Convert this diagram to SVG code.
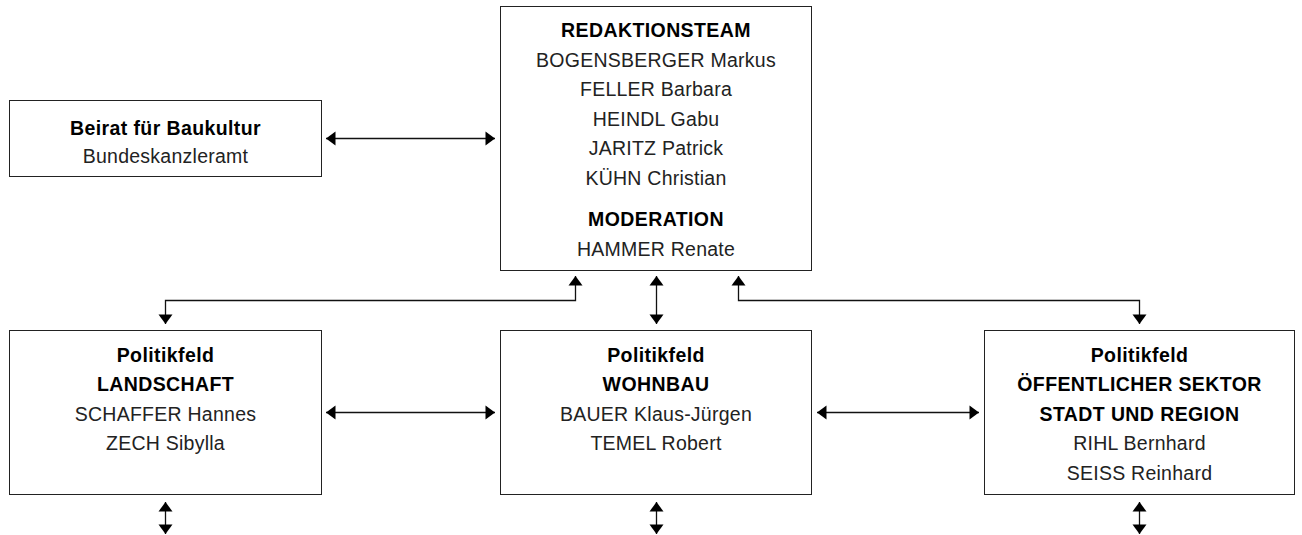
<svg xmlns="http://www.w3.org/2000/svg" width="1302" height="535" viewBox="0 0 1302 535">
  <style>
    .box { fill: #ffffff; stroke: #222222; stroke-width: 1; }
    .t { font-family: "Liberation Sans", Arial, Helvetica, sans-serif; font-size: 19.5px; letter-spacing: 0.25px; text-anchor: middle; fill: #222222; }
    .b { font-weight: bold; fill: #000000; letter-spacing: 0.4px; }
    .c { fill: none; stroke: #111111; stroke-width: 1.3; }
  </style>
  <defs>
    <marker id="ah" markerUnits="userSpaceOnUse" markerWidth="12" markerHeight="16" viewBox="-10 -8 11 16" refX="0" refY="0" orient="auto-start-reverse">
      <path d="M-9.5,-7 L0,0 L-9.5,7 Z" fill="#000000"/>
    </marker>
  </defs>
  <rect width="1302" height="535" fill="#ffffff"/>

  <g id="connectors">
    <path class="c" d="M326,138.5 H495" marker-start="url(#ah)" marker-end="url(#ah)"/>
    <path class="c" d="M575.5,276 V300.5 H165.5 V324" marker-start="url(#ah)" marker-end="url(#ah)"/>
    <path class="c" d="M656.5,276 V324" marker-start="url(#ah)" marker-end="url(#ah)"/>
    <path class="c" d="M738.5,276 V300.5 H1139.5 V324" marker-start="url(#ah)" marker-end="url(#ah)"/>
    <path class="c" d="M326,412.5 H495" marker-start="url(#ah)" marker-end="url(#ah)"/>
    <path class="c" d="M817,412.5 H979" marker-start="url(#ah)" marker-end="url(#ah)"/>
    <path class="c" d="M165.5,502 V534" marker-start="url(#ah)" marker-end="url(#ah)"/>
    <path class="c" d="M656.5,502 V534" marker-start="url(#ah)" marker-end="url(#ah)"/>
    <path class="c" d="M1139.5,502 V534" marker-start="url(#ah)" marker-end="url(#ah)"/>
  </g>

  <g id="redaktionsteam">
    <rect class="box" x="500.5" y="6.5" width="311" height="264"/>
    <text class="t b" x="656" y="37">REDAKTIONSTEAM</text>
    <text class="t" x="656" y="66.5">BOGENSBERGER Markus</text>
    <text class="t" x="656" y="96">FELLER Barbara</text>
    <text class="t" x="656" y="125.5">HEINDL Gabu</text>
    <text class="t" x="656" y="155">JARITZ Patrick</text>
    <text class="t" x="656" y="184.5">KÜHN Christian</text>
    <text class="t b" x="656" y="226">MODERATION</text>
    <text class="t" x="656" y="255.5">HAMMER Renate</text>
  </g>

  <g id="beirat">
    <rect class="box" x="9.5" y="100.5" width="312" height="76"/>
    <text class="t b" x="165.5" y="134.5">Beirat für Baukultur</text>
    <text class="t" x="165.5" y="162.5">Bundeskanzleramt</text>
  </g>

  <g id="landschaft">
    <rect class="box" x="9.5" y="330.5" width="312" height="164"/>
    <text class="t b" x="165.5" y="361.5">Politikfeld</text>
    <text class="t b" x="165.5" y="391">LANDSCHAFT</text>
    <text class="t" x="165.5" y="420.5">SCHAFFER Hannes</text>
    <text class="t" x="165.5" y="450">ZECH Sibylla</text>
  </g>

  <g id="wohnbau">
    <rect class="box" x="500.5" y="330.5" width="311" height="164"/>
    <text class="t b" x="656" y="361.5">Politikfeld</text>
    <text class="t b" x="656" y="391">WOHNBAU</text>
    <text class="t" x="656" y="420.5">BAUER Klaus-Jürgen</text>
    <text class="t" x="656" y="450">TEMEL Robert</text>
  </g>

  <g id="oeffentlicher-sektor">
    <rect class="box" x="984.5" y="330.5" width="310" height="164"/>
    <text class="t b" x="1139.5" y="361.5">Politikfeld</text>
    <text class="t b" x="1139.5" y="391">ÖFFENTLICHER SEKTOR</text>
    <text class="t b" x="1139.5" y="420.5">STADT UND REGION</text>
    <text class="t" x="1139.5" y="450">RIHL Bernhard</text>
    <text class="t" x="1139.5" y="479.5">SEISS Reinhard</text>
  </g>
</svg>
